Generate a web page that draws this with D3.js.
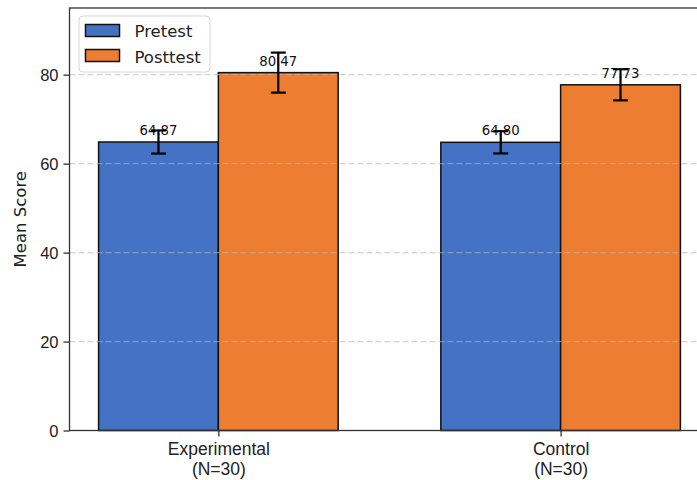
<!DOCTYPE html>
<html>
<head>
<meta charset="utf-8">
<script src="https://cdn.jsdelivr.net/npm/d3@7"></script>
<style>
  body { margin: 0; background: #fff; }
  svg { font-family: "DejaVu Sans", sans-serif; display: block; }
</style>
</head>
<body>
<div id="chart"></div>
<script>
// data
const groups = [["Experimental", "(N=30)"], ["Control", "(N=30)"]];
const pretestMeans = [64.87, 64.80];
const posttestMeans = [80.47, 77.73];
const pretestErr = [2.6, 2.5];
const posttestErr = [4.5, 3.5];
const seriesNames = ["Pretest", "Posttest"];
const seriesColors = ["#4472C4", "#ED7D31"];
const yTicks = [0, 20, 40, 60, 80];

const width = 697, height = 480;
const margin = { left: 69.5, top: 8, bottom: 430.5, right: 709.5 };
const barW = 0.35;

const svg = d3.select("#chart").append("svg")
    .attr("width", width)
    .attr("height", height);

const x = d3.scaleLinear().domain([-0.435, 1.435]).range([margin.left, margin.right]);
const y = d3.scaleLinear().domain([0, 95]).range([margin.bottom, margin.top]);

const series = [
    { name: seriesNames[0], color: seriesColors[0], means: pretestMeans, errs: pretestErr, off: -barW },
    { name: seriesNames[1], color: seriesColors[1], means: posttestMeans, errs: posttestErr, off: 0 }
];

const marks = [];
series.forEach(s => {
    s.means.forEach((m, i) => marks.push({ i: i, v: m, e: s.errs[i], off: s.off, color: s.color }));
});

// bars
svg.append("g").selectAll("rect")
    .data(marks)
    .enter().append("rect")
    .attr("x", d => x(d.i + d.off))
    .attr("y", d => y(d.v))
    .attr("width", d => x(d.i + d.off + barW) - x(d.i + d.off))
    .attr("height", d => y(0) - y(d.v))
    .style("fill", d => d.color)
    .style("stroke", "#111")
    .style("stroke-width", 1.5);

// grid on top of bars
svg.append("g").selectAll("line")
    .data(yTicks.filter(t => t > 0))
    .enter().append("line")
    .attr("x1", margin.left).attr("x2", width)
    .attr("y1", d => y(d)).attr("y2", d => y(d))
    .style("stroke", "#b8b8b8")
    .style("stroke-opacity", 0.6)
    .style("stroke-width", 1.2)
    .style("stroke-dasharray", "6,3");

// value labels
svg.append("g").selectAll("text")
    .data(marks)
    .enter().append("text")
    .attr("x", d => x(d.i + d.off + barW / 2))
    .attr("y", d => y(d.v) - 7)
    .attr("text-anchor", "middle")
    .style("font-size", "13.3px")
    .style("fill", "#111")
    .text(d => d.v.toFixed(2));

// error bars
const eb = svg.append("g").selectAll("g")
    .data(marks)
    .enter().append("g")
    .style("stroke", "#000")
    .style("stroke-width", 2.2);
eb.append("line")
    .attr("x1", d => x(d.i + d.off + barW / 2)).attr("x2", d => x(d.i + d.off + barW / 2))
    .attr("y1", d => y(d.v - d.e)).attr("y2", d => y(d.v + d.e));
eb.append("line")
    .attr("x1", d => x(d.i + d.off + barW / 2) - 7.5).attr("x2", d => x(d.i + d.off + barW / 2) + 7.5)
    .attr("y1", d => y(d.v + d.e)).attr("y2", d => y(d.v + d.e));
eb.append("line")
    .attr("x1", d => x(d.i + d.off + barW / 2) - 7.5).attr("x2", d => x(d.i + d.off + barW / 2) + 7.5)
    .attr("y1", d => y(d.v - d.e)).attr("y2", d => y(d.v - d.e));

// frame
svg.append("rect")
    .attr("x", margin.left).attr("y", margin.top)
    .attr("width", margin.right - margin.left).attr("height", margin.bottom - margin.top)
    .style("fill", "none")
    .style("stroke", "#333")
    .style("stroke-width", 1.3);

// y axis
const yAxis = svg.append("g")
    .attr("transform", "translate(" + margin.left + ",0)")
    .call(d3.axisLeft(y).tickValues(yTicks).tickSize(6).tickPadding(5));
yAxis.select(".domain").remove();
yAxis.selectAll("line").style("stroke", "#333").style("stroke-width", 1.3);
yAxis.selectAll("text").style("font-size", "16.5px").style("fill", "#222")
    .attr("dy", "0.36em");

// x axis
const xAxis = svg.append("g")
    .attr("transform", "translate(0," + margin.bottom + ")")
    .call(d3.axisBottom(x).tickValues([0, 1]).tickSize(6).tickFormat(""));
xAxis.select(".domain").remove();
xAxis.selectAll("line").style("stroke", "#333").style("stroke-width", 1.3);
xAxis.selectAll(".tick").each(function(d) {
    const t = d3.select(this).append("text")
        .attr("text-anchor", "middle")
        .style("font-size", "17.5px")
        .style("fill", "#222");
    groups[d].forEach((line, k) => {
        t.append("tspan").attr("x", 0).attr("y", 24.5 + k * 19.5).text(line);
    });
});

// y label
svg.append("text")
    .attr("transform", "translate(26," + (margin.top + margin.bottom) / 2 + ") rotate(-90)")
    .attr("text-anchor", "middle")
    .style("font-size", "16.5px")
    .style("fill", "#222")
    .text("Mean Score");

// legend
const lg = svg.append("g");
lg.append("rect")
    .attr("x", 79).attr("y", 16)
    .attr("width", 131).attr("height", 56)
    .attr("rx", 4)
    .style("fill", "#fff").style("fill-opacity", 0.8)
    .style("stroke", "#d6d6d6");
series.forEach((s, k) => {
    lg.append("rect")
        .attr("x", 85.5).attr("y", 24.5 + k * 25)
        .attr("width", 34).attr("height", 12)
        .style("fill", s.color)
        .style("stroke", "#111")
        .style("stroke-width", 1.5);
    lg.append("text")
        .attr("x", 134.5).attr("y", 37 + k * 25.5)
        .style("font-size", "16.5px")
        .style("fill", "#222")
        .text(s.name);
});
</script>
</body>
</html>
